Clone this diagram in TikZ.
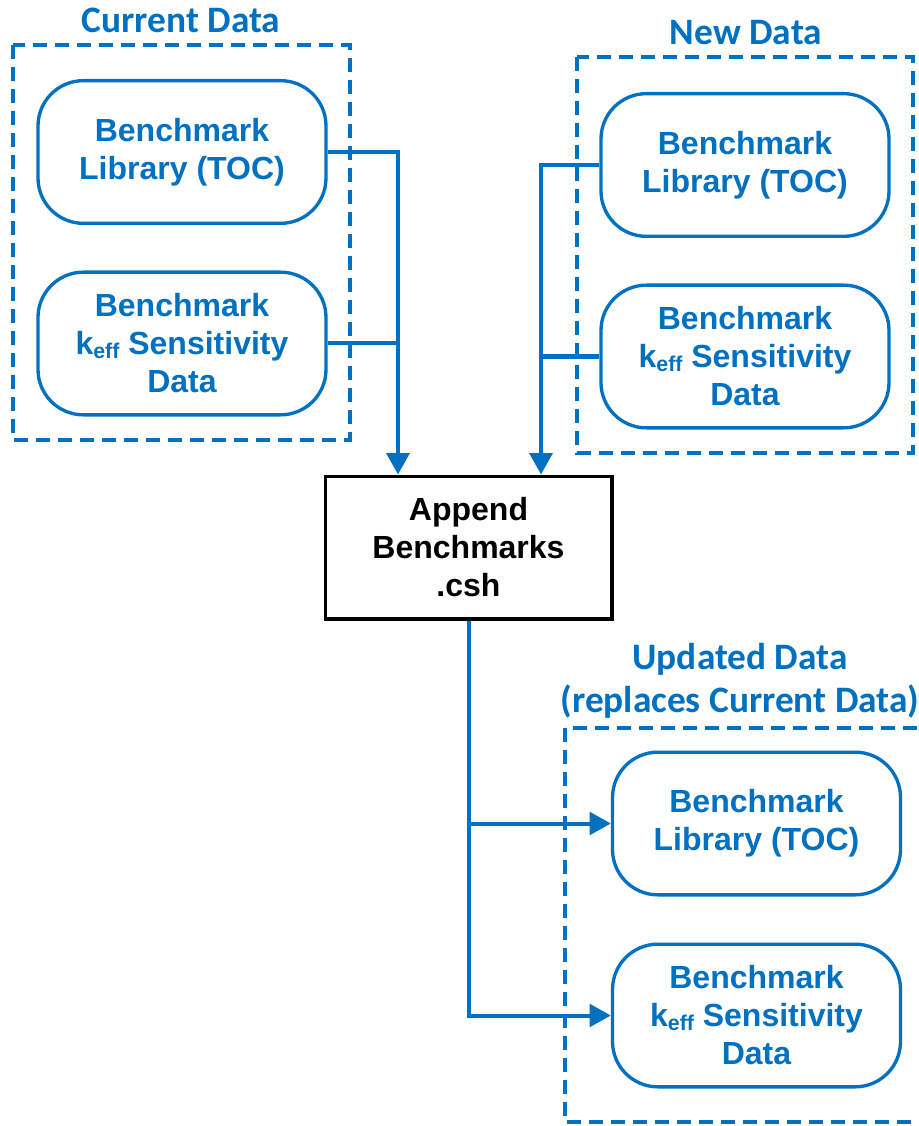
\documentclass[tikz,border=0pt]{standalone}
\usepackage{fontspec}
\setmainfont{Liberation Sans}
\newfontfamily\titlefont{Carlito}
\usetikzlibrary{arrows.meta}
\definecolor{pblue}{HTML}{0070C0}
\newcommand{\keff}{k{\fontsize{16}{16}\selectfont\raisebox{-0.35ex}{eff}}}
\begin{document}
\begin{tikzpicture}[x=0.75pt,y=-0.75pt,
  rbox/.style={draw=pblue, line width=2.5pt, rounded corners=34pt,
    minimum width=216pt, minimum height=107pt, align=center,
    text=pblue, font=\fontsize{24}{28.5}\selectfont\bfseries},
  procbox/.style={draw=black, line width=2.5pt, minimum width=215pt,
    minimum height=107pt, align=center,
    font=\fontsize{24}{28.5}\selectfont\bfseries},
  group/.style={draw=pblue, line width=2.8pt, dash pattern=on 10.5pt off 6pt},
  grouptitle/.style={text=pblue, align=center,
    font=\titlefont\fontsize{28}{32.5}\selectfont\bfseries},
  conn/.style={draw=pblue, line width=3pt},
  arr/.style={conn, -{Triangle[width=17pt,length=16pt]}}
]
\useasboundingbox (0,0) rectangle (919,1126);

% dashed group frames
\draw[group] (13,45) rectangle (350,440);
\draw[group] (577,57) rectangle (913,453);
\draw[group] (565,728) rectangle (930,1122);

% group titles
\node[grouptitle] (tcur) at (181,20) {Current Data};
\node[grouptitle] (tnew) at (746,33) {New Data};
\node[grouptitle] (tupd) at (740,681) {Updated Data\\(replaces Current Data)};

% data boxes
\node[rbox] (L1) at (182,152) {Benchmark\\Library (TOC)};
\node[rbox] (L2) at (182,343.5) {Benchmark\\\keff{} Sensitivity\\Data};
\node[rbox] (R1) at (745,165) {Benchmark\\Library (TOC)};
\node[rbox] (R2) at (745,356.5) {Benchmark\\\keff{} Sensitivity\\Data};
\node[rbox] (U1) at (756.5,823.5) {Benchmark\\Library (TOC)};
\node[rbox] (U2) at (756.5,1015.5) {Benchmark\\\keff{} Sensitivity\\Data};

% processing script
\node[procbox] (A) at (468.5,547.5) {Append\\Benchmarks\\.csh};

% bus lines
\coordinate (lx) at (398,0);
\coordinate (rx) at (541,0);

\draw[arr] (L1.east) -- (L1.east -| lx) -- (A.north -| lx);
\draw[conn] (L2.east) -- (L2.east -| lx);

\draw[arr] (R1.west) -- (R1.west -| rx) -- (A.north -| rx);
\draw[conn] (R2.west) -- (R2.west -| rx);

\draw[arr] (A.south) -- (A.south |- U2.west) -- (U2.west);
\draw[arr] (A.south |- U1.west) -- (U1.west);
\end{tikzpicture}
\end{document}
